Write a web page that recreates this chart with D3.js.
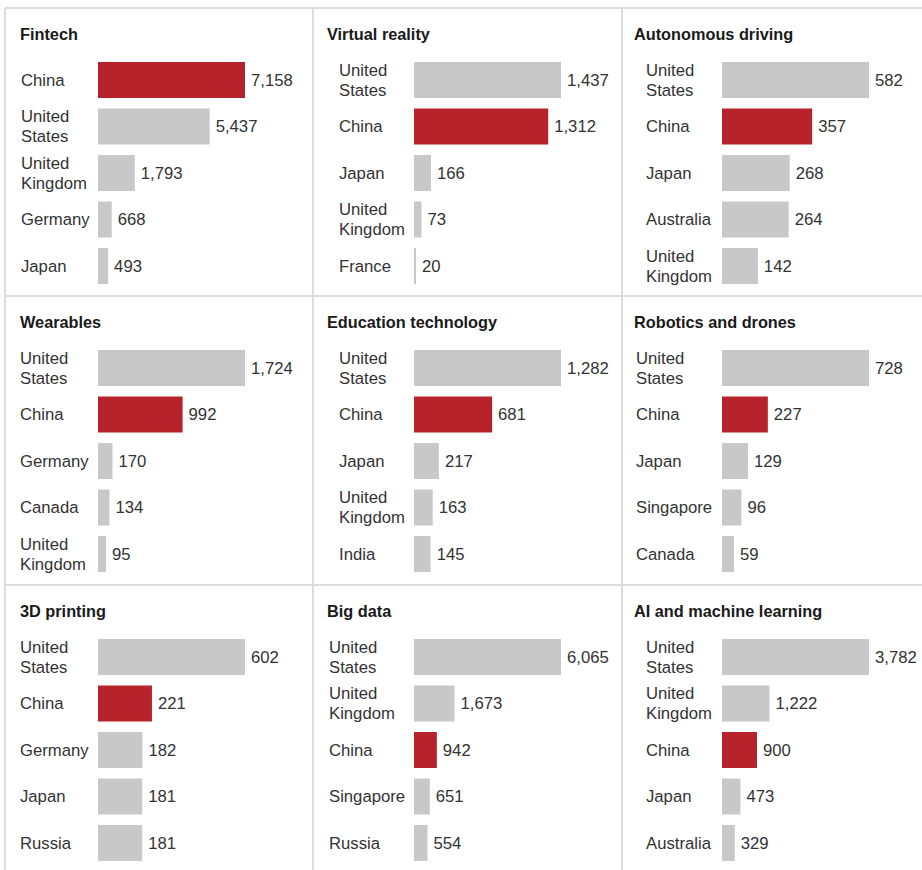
<!DOCTYPE html>
<html>
<head>
<meta charset="utf-8">
<script src="https://cdn.jsdelivr.net/npm/d3@7"></script>
<style>
  body { margin: 0; background: #fff; }
  svg { font-family: "Liberation Sans", Arial, sans-serif; }
</style>
</head>
<body>
<svg id="chart"></svg>
<script>
const width = 922
const height = 870

// panel titles, in reading order
const titles = ["Fintech", "Virtual reality", "Autonomous driving",
  "Wearables", "Education technology", "Robotics and drones",
  "3D printing", "Big data", "AI and machine learning"]

// countries per panel
const countries = [
  ["China", "United States", "United Kingdom", "Germany", "Japan"],
  ["United States", "China", "Japan", "United Kingdom", "France"],
  ["United States", "China", "Japan", "Australia", "United Kingdom"],
  ["United States", "China", "Germany", "Canada", "United Kingdom"],
  ["United States", "China", "Japan", "United Kingdom", "India"],
  ["United States", "China", "Japan", "Singapore", "Canada"],
  ["United States", "China", "Germany", "Japan", "Russia"],
  ["United States", "United Kingdom", "China", "Singapore", "Russia"],
  ["United States", "United Kingdom", "China", "Japan", "Australia"]
]

// values per panel
const values = [
  [7158, 5437, 1793, 668, 493],
  [1437, 1312, 166, 73, 20],
  [582, 357, 268, 264, 142],
  [1724, 992, 170, 134, 95],
  [1282, 681, 217, 163, 145],
  [728, 227, 129, 96, 59],
  [602, 221, 182, 181, 181],
  [6065, 1673, 942, 651, 554],
  [3782, 1222, 900, 473, 329]
]

const colLeft = [5, 313, 622]
const rowTop = [8, 296, 585]
const titleX = [20, 327, 634]
const barX = [98, 414, 722]
// country labels sit a little differently in each panel
const labelX = [21, 339, 646, 20, 339, 636, 20, 329, 646]
const barMax = 147

const red = "#b8222b"
const grey = "#c8c8c8"
const lineColor = "#dcdcdc"

const svg = d3.select("#chart")
  .attr("width", width)
  .attr("height", height)

// grid lines
const grid = svg.append("g")
grid.selectAll(".h")
  .data(rowTop)
  .enter()
  .append("line")
  .attr("x1", colLeft[0]).attr("x2", width)
  .attr("y1", d => d).attr("y2", d => d)
  .attr("stroke", lineColor).attr("stroke-width", 2)
grid.selectAll(".v")
  .data(colLeft)
  .enter()
  .append("line")
  .attr("x1", d => d).attr("x2", d => d)
  .attr("y1", rowTop[0]).attr("y2", height)
  .attr("stroke", lineColor).attr("stroke-width", 2)

const fmt = d3.format(",")

titles.forEach((title, i) => {
  const col = i % 3
  const row = Math.floor(i / 3)
  const top = rowTop[row]

  const g = svg.append("g")

  g.append("text")
    .attr("x", titleX[col])
    .attr("y", top + 32)
    .attr("font-size", 16.3)
    .attr("font-weight", "bold")
    .attr("fill", "#1a1a1a")
    .text(title)

  const data = countries[i].map((c, j) => ({ country: c, value: values[i][j] }))

  const yScale = d3.scaleBand()
    .domain(countries[i])
    .range([top + 54, top + 276])
    .paddingInner(0.226)

  const xScale = d3.scaleLinear()
    .domain([0, d3.max(values[i])])
    .range([0, barMax])

  const rows = g.selectAll(".row")
    .data(data)
    .enter()
    .append("g")

  rows.append("rect")
    .attr("x", barX[col])
    .attr("y", d => yScale(d.country))
    .attr("width", d => xScale(d.value))
    .attr("height", yScale.bandwidth())
    .attr("fill", d => d.country === "China" ? red : grey)

  rows.append("text")
    .attr("x", d => barX[col] + xScale(d.value) + 6)
    .attr("y", d => yScale(d.country) + yScale.bandwidth() / 2)
    .attr("dy", "0.35em")
    .attr("font-size", 16.7)
    .attr("fill", "#333")
    .text(d => fmt(d.value))

  const label = rows.append("text")
    .attr("font-size", 16.7)
    .attr("fill", "#333")

  label.each(function(d) {
    const words = d.country.startsWith("United") ? ["United", d.country.slice(7)] : [d.country]
    const cy = yScale(d.country) + yScale.bandwidth() / 2
    const t = d3.select(this)
    words.forEach((w, k) => {
      t.append("tspan")
        .attr("x", labelX[i])
        .attr("y", cy + (k - (words.length - 1) / 2) * 20)
        .attr("dy", "0.35em")
        .text(w)
    })
  })
})
</script>
</body>
</html>
